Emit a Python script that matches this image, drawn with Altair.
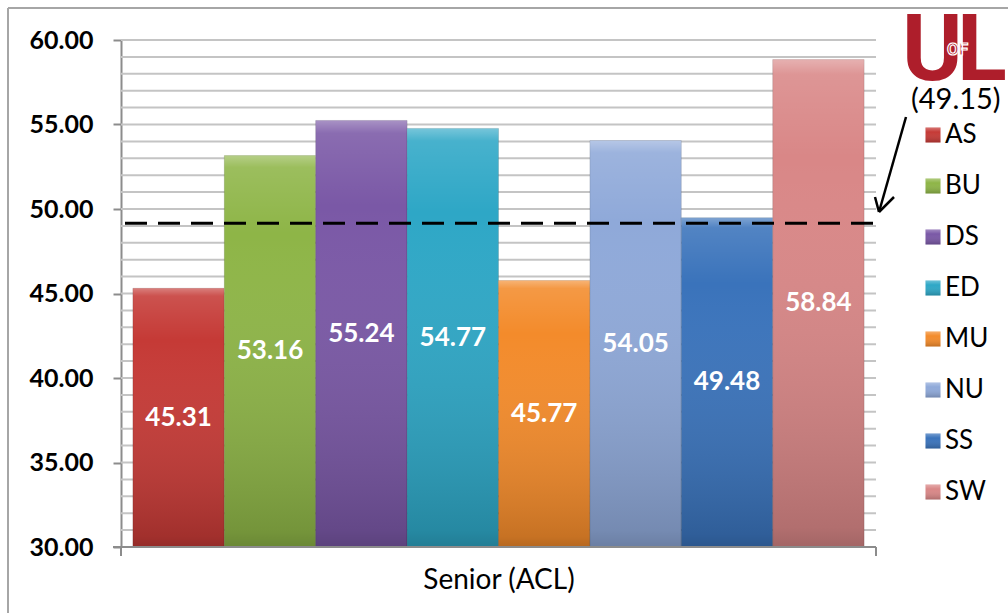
import altair as alt
import pandas as pd

cats = ["AS", "BU", "DS", "ED", "MU", "NU", "SS", "SW"]
vals = [45.31, 53.16, 55.24, 54.77, 45.77, 54.05, 49.48, 58.84]
colors = ["#C53A36", "#8EB547", "#7A58A6", "#2EA7C6", "#F38B2B", "#8FA9D9", "#3A73BB", "#D98787"]
benchmark = 49.15
grid_vals = list(range(31, 61))
y_ticks = [30, 35, 40, 45, 50, 55, 60]
x_title = "Senior (ACL)"

W, H = 755, 507
FONT = "Lato"

df = pd.DataFrame({"cat": cats, "value": vals})
yscale = alt.Scale(domain=[30, 60], zero=False, nice=False)
cscale = alt.Scale(domain=cats, range=colors)
yaxis = alt.Axis(values=y_ticks, format=".2f", title=None, grid=False,
                 labelFont=FONT, labelFontSize=25, labelFontWeight="bold",
                 labelColor="black", tickSize=8, tickColor="#8C8C8C", tickWidth=2,
                 domainColor="#8C8C8C", domainWidth=2, labelPadding=20)
xaxis = alt.Axis(title=x_title, labels=False, ticks=False, domain=False,
                 titleFont=FONT, titleFontSize=28, titleFontWeight="normal",
                 titleColor="black", titlePadding=19)
xenc = alt.X("cat:N", sort=cats, scale=alt.Scale(paddingInner=0, paddingOuter=0.13), axis=xaxis)

grid = alt.Chart(pd.DataFrame({"g": grid_vals})).mark_rule(color="#C4C4C4", strokeWidth=2).encode(
    y=alt.Y("g:Q", scale=yscale, axis=yaxis),
    x=alt.value(0), x2=alt.value(W))

bars = alt.Chart(df).mark_bar(stroke="#000000", strokeOpacity=0.12, strokeWidth=1).encode(
    x=xenc,
    y=alt.Y("value:Q", scale=yscale, axis=yaxis),
    y2=alt.datum(30),
    color=alt.Color("cat:N", sort=cats, scale=cscale, legend=None),
)

shade = alt.Chart(df).mark_bar(
    fill=alt.Gradient(gradient="linear", x1=0, y1=0, x2=0, y2=1,
                      stops=[alt.GradientStop(offset=0, color="rgba(255,255,255,0.35)"),
                             alt.GradientStop(offset=0.03, color="rgba(255,255,255,0.12)"),
                             alt.GradientStop(offset=0.2, color="rgba(255,255,255,0.0)"),
                             alt.GradientStop(offset=0.96, color="rgba(0,0,0,0.18)"),
                             alt.GradientStop(offset=1, color="rgba(0,0,0,0.25)")])
).encode(x=xenc, y=alt.Y("value:Q", scale=yscale, axis=yaxis), y2=alt.datum(30))

labels = alt.Chart(df).transform_calculate(mid="(datum.value + 30) / 2").mark_text(
    font=FONT, fontSize=26, fontWeight="bold", color="white", baseline="middle").encode(
    x=xenc, y=alt.Y("mid:Q", scale=yscale, axis=yaxis),
    text=alt.Text("value:Q", format=".2f"))

# manual legend
leg_base = alt.Chart(df).transform_window(idx="row_number()").transform_calculate(
    ly="95 + (datum.idx - 1) * 51")
leg_sym = leg_base.mark_square(size=225, opacity=1).encode(
    x=alt.value(812), y=alt.Y("ly:Q", scale=None),
    color=alt.Color("cat:N", sort=cats, scale=cscale, legend=None))
leg_sym_shade = leg_base.mark_square(size=225, opacity=1,
    fill=alt.Gradient(gradient="linear", x1=0, y1=0, x2=0, y2=1,
                      stops=[alt.GradientStop(offset=0, color="rgba(255,255,255,0.3)"),
                             alt.GradientStop(offset=0.3, color="rgba(255,255,255,0.0)"),
                             alt.GradientStop(offset=1, color="rgba(0,0,0,0.2)")])).encode(
    x=alt.value(812), y=alt.Y("ly:Q", scale=None))
leg_txt = leg_base.mark_text(font=FONT, fontSize=26, color="black", align="left",
                             baseline="middle").encode(
    x=alt.value(824), y=alt.Y("ly:Q", scale=None), text="cat:N")

bench = alt.Chart(pd.DataFrame({"b": [benchmark]})).mark_rule(
    color="black", strokeWidth=3, strokeDash=[22, 11]).encode(
    y=alt.Y("b:Q", scale=yscale, axis=yaxis), x=alt.value(4), x2=alt.value(W))

bench_txt = alt.Chart(pd.DataFrame({"t": [f"({benchmark:.2f})"]})).mark_text(
    font=FONT, fontSize=29, color="black", align="left", baseline="middle").encode(
    text="t:N", x=alt.value(790), y=alt.value(60))

one = pd.DataFrame({"k": [0]})
arrow = alt.layer(
    alt.Chart(one).mark_rule(color="black", strokeWidth=2.5).encode(
        x=alt.value(785), y=alt.value(77), x2=alt.value(758), y2=alt.value(172)),
    alt.Chart(one).mark_rule(color="black", strokeWidth=2.5).encode(
        x=alt.value(754), y=alt.value(157), x2=alt.value(758), y2=alt.value(172)),
    alt.Chart(one).mark_rule(color="black", strokeWidth=2.5).encode(
        x=alt.value(773), y=alt.value(157), x2=alt.value(758), y2=alt.value(172)),
)

RED = "#AE1E2B"
logo = alt.layer(
    alt.Chart(pd.DataFrame({"t": ["U"]})).mark_text(
        font="Roboto", fontSize=92, fontWeight="bold", color=RED, align="left", baseline="alphabetic").encode(
        text="t:N", x=alt.value(781), y=alt.value(40)),
    alt.Chart(pd.DataFrame({"t": ["L"]})).mark_text(
        font="Roboto", fontSize=92, fontWeight="bold", color=RED, align="left", baseline="alphabetic").encode(
        text="t:N", x=alt.value(836), y=alt.value(40)),
    alt.Chart(pd.DataFrame({"t": ["OF"]})).mark_text(
        font="Roboto", fontSize=17, fontWeight="bold", color=RED, align="left", baseline="alphabetic",
        stroke="white", strokeWidth=1.2).encode(
        text="t:N", x=alt.value(826), y=alt.value(15)),
)

frame = alt.layer(
    alt.Chart(one).mark_rule(color="#A6A6A6", strokeWidth=2).encode(
        x=alt.value(-113), x2=alt.value(900), y=alt.value(-32)),
    alt.Chart(one).mark_rule(color="#A6A6A6", strokeWidth=2).encode(
        x=alt.value(-113), y=alt.value(-32), y2=alt.value(580)),
)

xdomain = alt.layer(
    alt.Chart(one).mark_rule(color="#8C8C8C", strokeWidth=2).encode(
        x=alt.value(-8), x2=alt.value(W), y=alt.value(H)),
    alt.Chart(one).mark_rule(color="#8C8C8C", strokeWidth=2).encode(
        x=alt.value(0), y=alt.value(H), y2=alt.value(H + 9)),
    alt.Chart(one).mark_rule(color="#8C8C8C", strokeWidth=2).encode(
        x=alt.value(W), y=alt.value(H), y2=alt.value(H + 9)),
)

chart = alt.layer(grid, bars, shade, labels, bench, xdomain, leg_sym, leg_sym_shade, leg_txt,
                  bench_txt, arrow, logo, frame).properties(
    width=W, height=H,
    autosize=alt.AutoSizeParams(type="none"),
    padding={"left": 121, "top": 40, "right": 132, "bottom": 66},
    background="white",
).configure_view(stroke=None)

chart.save("out.html", embed_options={"renderer": "svg", "actions": False})
